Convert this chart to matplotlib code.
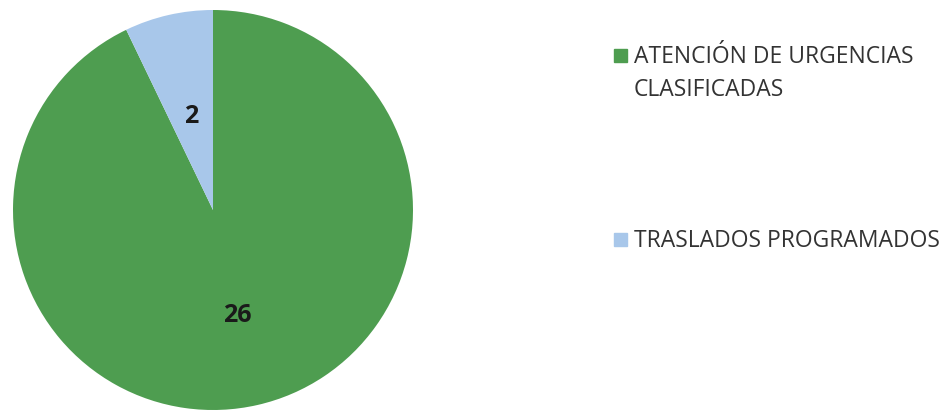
import numpy as np
import matplotlib
matplotlib.use("Agg")
import matplotlib.pyplot as plt
from matplotlib.patches import Rectangle

categories = ["ATENCIÓN DE URGENCIAS\nCLASIFICADAS", "TRASLADOS PROGRAMADOS"]
values = [26, 2]
colors = ["#4E9D50", "#A8C7EA"]
label_radius = [0.54, 0.48]

plt.rcParams['font.family'] = ['Open Sans', 'DejaVu Sans']

fig = plt.figure(figsize=(9.51, 4.16), dpi=100)
ax = fig.add_axes([13/951, 6/416, 400/951, 400/416])
wedges, _ = ax.pie(values, colors=colors, startangle=90, counterclock=False,
                   radius=1.0, wedgeprops=dict(linewidth=0))
ax.set_xlim(-1, 1)
ax.set_ylim(-1, 1)
ax.set_aspect('equal')
for w, v, r in zip(wedges, values, label_radius):
    ang = np.deg2rad((w.theta1 + w.theta2) / 2)
    ax.text(r * np.cos(ang), r * np.sin(ang), str(v), ha='center', va='center',
            fontsize=18, fontweight='bold', color='#1a1a1a')

# legend
marker_y = [55, 240]
baselines = [[63, 96], [247]]
for lab, c, my, bls in zip(categories, colors, marker_y, baselines):
    fig.patches.append(Rectangle((614/951, 1 - (my + 6.5)/416), 13/951, 13/416,
                                 transform=fig.transFigure, color=c))
    for line, bl in zip(lab.split("\n"), bls):
        fig.text(634/951, 1 - bl/416, line, ha='left', va='baseline',
                 fontsize=16.5, color='#333333')

fig.savefig("out.png", dpi=100)
